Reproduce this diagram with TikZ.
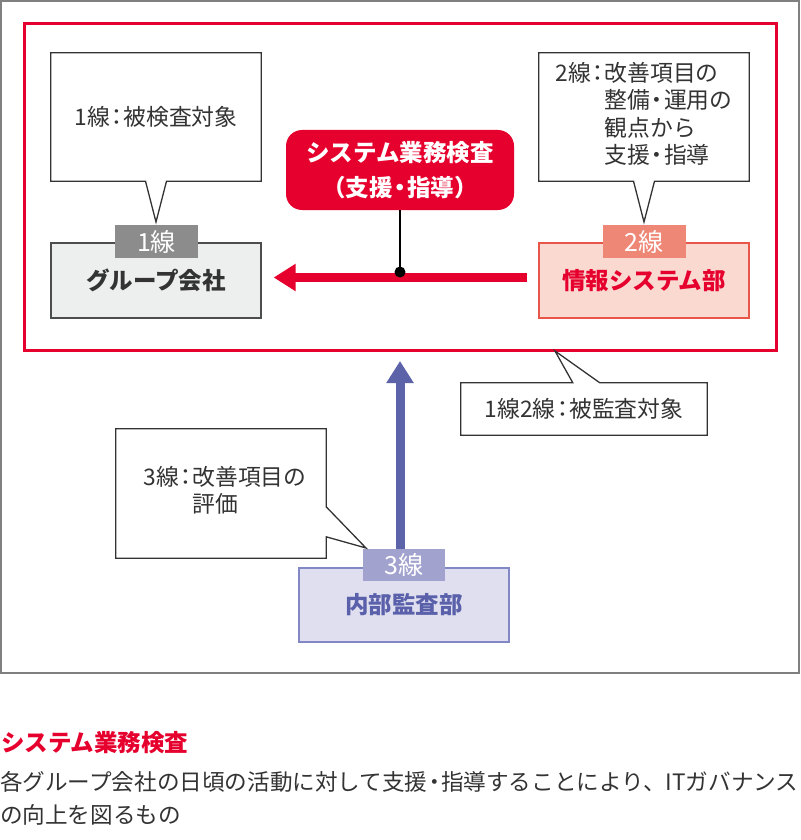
\documentclass[tikz,border=0pt]{standalone}
\usepackage{fontspec}
\setmainfont{Noto Sans CJK JP}
\usetikzlibrary{arrows.meta,calc}
\definecolor{myred}{HTML}{E6002D}
\definecolor{framegray}{HTML}{808080}
\definecolor{inkdark}{HTML}{333333}
\definecolor{tagone}{HTML}{8C8C8C}
\definecolor{boxonefill}{HTML}{EDEFEE}
\definecolor{boxoneline}{HTML}{4D4D4D}
\definecolor{tagtwo}{HTML}{EE8776}
\definecolor{boxtwofill}{HTML}{FAD9D1}
\definecolor{boxtwoline}{HTML}{E8564A}
\definecolor{tagthree}{HTML}{A2A2CF}
\definecolor{boxthreefill}{HTML}{DFDFF0}
\definecolor{boxthreeline}{HTML}{8287C6}
\definecolor{bluetext}{HTML}{5A60A9}
\definecolor{bluearrowcol}{HTML}{5C63A9}
\newcommand\jcolon{\makebox[0.6em]{：}}
\newcommand\jdot{\makebox[0.6em]{・}}
\begin{document}
\begin{tikzpicture}[x=1pt,y=-1pt,
  calloutnode/.style={inner sep=0pt,text=inkdark,font=\fontsize{22.8}{27}\selectfont},
  calloutline/.style={draw=inkdark,line width=1.3pt,line join=miter},
  tagbox/.style={minimum width=83pt,minimum height=33pt,inner sep=0pt,text=white,font=\fontsize{25}{28}\selectfont},
  unitbox/.style={minimum width=210pt,minimum height=75pt,inner sep=0pt,line width=1.3pt,font=\bfseries\fontsize{23.5}{28}\selectfont}]
\useasboundingbox (0,0) rectangle (800,840);

% outer frame and red frame
\draw[framegray,line width=1.5pt] (1,1) rectangle (799,673);
\draw[myred,line width=3pt] (24.5,23.5) rectangle (776,350);

% callout 1
\node[calloutnode,minimum width=210pt,minimum height=128pt] (c1) at (156,117) {1線\jcolon 被検査対象};
\coordinate (tip1) at (156,222);
\draw[calloutline] (c1.north west) -- (c1.north east) -- (c1.south east)
  -- ($(c1.south)+(10.5,0)$) -- (tip1) -- ($(c1.south)+(-10.5,0)$) -- (c1.south west) -- cycle;

% callout 2
\node[calloutnode,minimum width=210pt,minimum height=128pt] (c2) at (644,117)
  {\begin{tabular}{@{}l@{}l@{}}2線\jcolon & 改善項目の\\ & 整備\jdot 運用の\\ & 観点から\\ & 支援\jdot 指導\end{tabular}};
\coordinate (tip2) at (644,222);
\draw[calloutline] (c2.north west) -- (c2.north east) -- (c2.south east)
  -- ($(c2.south)+(10.5,0)$) -- (tip2) -- ($(c2.south)+(-10.5,0)$) -- (c2.south west) -- cycle;

% unit boxes
\node[unitbox,draw=boxoneline,fill=boxonefill,text=inkdark] (b1) at (156,280.5) {グループ会社};
\node[tagbox,fill=tagone] (t1) at (156.5,241.5) {1線};
\node[unitbox,draw=boxtwoline,fill=boxtwofill,text=myred] (b2) at (644,280.5) {情報システム部};
\node[tagbox,fill=tagtwo] (t2) at (644,241.5) {2線};

% system inspection box
\node[fill=myred,rounded corners=16pt,minimum width=228pt,minimum height=80pt,inner sep=0pt,
  text=white,align=center,font=\bfseries\fontsize{23.5}{35}\selectfont] (s) at (400,170)
  {システム業務検査\\（支援\jdot 指導）};

% red arrow
\draw[myred,line width=9pt,-{Triangle[length=22pt,width=26pt]}]
  ($(b2.west)+(-11,-3)$) -- ($(b1.east)+(12,-3)$);
\node[circle,fill=black,inner sep=0pt,minimum size=11pt] (dot) at (400,272) {};
\draw[black,line width=1.5pt] (s.south) -- (dot.center);

% callout 3 (1線2線)
\node[calloutnode,minimum width=246pt,minimum height=52pt] (c3) at (584,409) {1線2線\jcolon 被監査対象};
\coordinate (tip3) at (555,351);
\draw[calloutline] (c3.north west) -- ($(c3.north west)+(112,0)$) -- (tip3)
  -- ($(c3.north west)+(139,0)$) -- (c3.north east) -- (c3.south east) -- (c3.south west) -- cycle;

% internal audit
\node[unitbox,minimum height=74pt,draw=boxthreeline,fill=boxthreefill,text=bluetext] (b3) at (404,605) {内部監査部};
\node[tagbox,minimum width=82pt,minimum height=32pt,fill=tagthree] (t3) at (404,565) {3線};
\coordinate (up) at (400,361);
\draw[bluearrowcol,line width=9pt,-{Triangle[length=22pt,width=26pt]}] ($(t3.north)+(-4,0)$) -- (up);

% callout 4 (3線)
\node[calloutnode,minimum width=210pt,minimum height=129pt] (c4) at (221,493.5)
  {\hspace*{8pt}\begin{tabular}{@{}l@{}l@{}}3線\jcolon & 改善項目の\\ & 評価\end{tabular}};
\coordinate (tip4) at (366,548);
\draw[calloutline] (c4.north west) -- (c4.north east) -- ($(c4.north east)+(0,78)$) -- (tip4)
  -- ($(c4.north east)+(0,108)$) -- (c4.south east) -- (c4.south west) -- cycle;

% caption
\node[anchor=west,inner sep=0pt,text=myred,font=\bfseries\fontsize{23.5}{28}\selectfont] (title) at (1,743) {システム業務検査};
\node[anchor=west,inner sep=0pt,text=inkdark,font=\fontsize{22.6}{28}\selectfont] (body1) at (0,782)
  {各グループ会社の日頃の活動に対して支援\jdot 指導することにより、ITガバナンス};
\node[anchor=west,inner sep=0pt,text=inkdark,font=\fontsize{22.6}{28}\selectfont] (body2) at (0,815)
  {の向上を図るもの};
\end{tikzpicture}
\end{document}
